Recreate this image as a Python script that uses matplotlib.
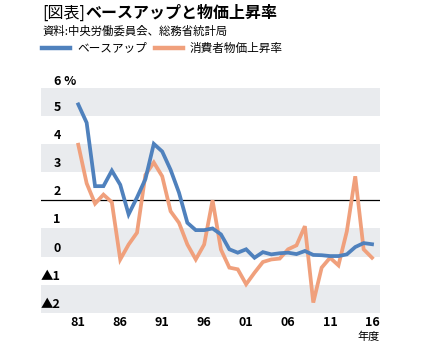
import matplotlib
matplotlib.use("Agg")
import matplotlib.pyplot as plt
from matplotlib.lines import Line2D

plt.rcParams['font.family'] = ['Noto Sans CJK JP', 'DejaVu Sans']

# data (fiscal years 1981-2016, %)
years = list(range(1981, 2017))
base_up = [5.4, 4.75, 2.5, 2.5, 3.05, 2.55, 1.5, 2.1, 2.75, 4.0,
           3.73, 3.08, 2.27, 1.2, 0.94, 0.94, 1.0, 0.79, 0.26, 0.14,
           0.26, -0.04, 0.16, 0.08, 0.12, 0.14, 0.09, 0.2, 0.06, 0.05,
           0.02, 0.02, 0.08, 0.34, 0.48, 0.44]
cpi = [3.97, 2.6, 1.88, 2.2, 1.93, -0.1, 0.43, 0.85, 2.9, 3.34,
       2.85, 1.61, 1.2, 0.43, -0.1, 0.43, 2.0, 0.25, -0.39, -0.45,
       -0.98, -0.57, -0.19, -0.1, -0.07, 0.26, 0.4, 1.08, -1.63, -0.39,
       -0.04, -0.31, 0.9, 2.85, 0.26, -0.04]
xtick_years = [1981, 1986, 1991, 1996, 2001, 2006, 2011, 2016]
xtick_labels = ['81', '86', '91', '96', '01', '06', '11', '16']
ytick_vals = [6, 5, 4, 3, 2, 1, 0, -1, -2]
ytick_labels = ['6 %', '5', '4', '3', '2', '1', '0', '▲1', '▲2']
shaded = [(5, 6), (3, 4), (0, 1), (-2, -1)]

blue = '#4f81bd'
orange = '#f0a07c'

W, H = 435, 350
fig = plt.figure(figsize=(W / 100, H / 100), dpi=100)
ax = fig.add_axes([41 / W, 37 / H, (380 - 41) / W, (313 - 87.5) / H])
ax.set_xlim(1976.56, 2016.95)
ax.set_ylim(-2, 6)
for s in ax.spines.values():
    s.set_visible(False)
ax.set_yticks([])
ax.set_xticks(xtick_years)
ax.set_xticklabels(xtick_labels, fontsize=9, fontweight='bold')
ax.tick_params(axis='x', length=0, pad=2)

for lo, hi in shaded:
    ax.axhspan(lo, hi, color='#e9ebee', lw=0, zorder=0)
ax.axhline(2, color='black', lw=0.9, zorder=1)

ax.plot(years, cpi, color=orange, lw=2.7, zorder=3, solid_joinstyle='miter')
ax.plot(years, base_up, color=blue, lw=2.7, zorder=4, solid_joinstyle='miter')

xlab = 1981 + (60.7 - 78.3) / 8.4
for v, lab in zip(ytick_vals, ytick_labels):
    if lab == '6 %':
        ax.text(xlab - 0.85, v + 0.2, lab, ha='left', va='center',
                fontsize=9, fontweight='bold', clip_on=False)
    else:
        ax.text(xlab, v + 0.3, lab, ha='right', va='center',
                fontsize=9, fontweight='bold')

ax.text(2016.95, -2.66, '年度', ha='right', va='top', fontsize=8)

# title, source and legend
fig.text(42 / W, 1 - 13 / H, '[図表]', fontsize=11.5, va='center', ha='left')
fig.text(85 / W, 1 - 13 / H, 'ベースアップと物価上昇率', fontsize=11.5,
         fontweight='bold', va='center', ha='left')
fig.text(42 / W, 1 - 31 / H, '資料:中央労働委員会、総務省統計局', fontsize=8.2,
         va='center', ha='left')
ly = 1 - 48 / H
fig.add_artist(Line2D([42 / W, 70 / W], [ly, ly], color=blue, lw=3.2))
fig.text(77 / W, ly, 'ベースアップ', fontsize=8.4, va='center', ha='left')
fig.add_artist(Line2D([155 / W, 183 / W], [ly, ly], color=orange, lw=3.2))
fig.text(190 / W, ly, '消費者物価上昇率', fontsize=8.4, va='center', ha='left')

fig.savefig('out.png', dpi=100)
